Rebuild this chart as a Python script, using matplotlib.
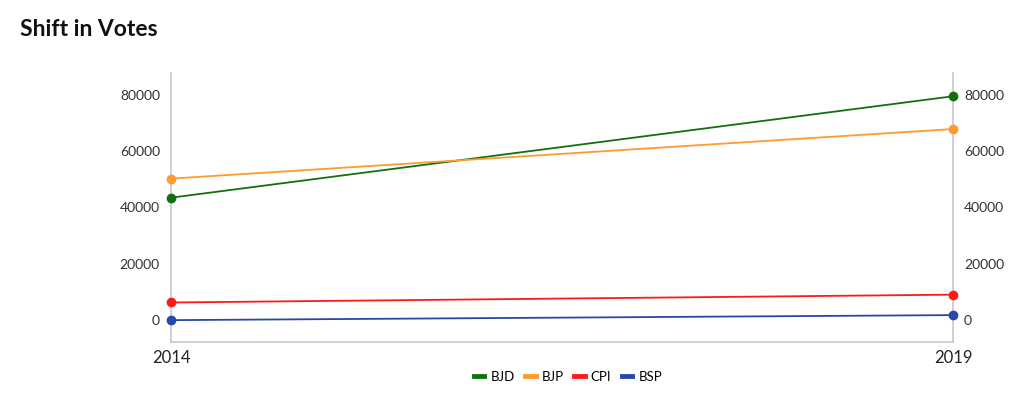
import matplotlib
matplotlib.use("Agg")
import matplotlib.pyplot as plt
from matplotlib.lines import Line2D

years = ["2014", "2019"]
series_names = ["BJD", "BJP", "CPI", "BSP"]
bjd = [43500, 79700]
bjp = [50300, 68000]
cpi = [6100, 8900]
bsp = [-200, 1600]
colors = ["#107010", "#ff9a30", "#ff1a1a", "#2848a8"]
y_ticks = [0, 20000, 40000, 60000, 80000]

plt.rcParams['font.family'] = ['Lato', 'DejaVu Sans']

fig = plt.figure(figsize=(10.24, 4.12), dpi=100)
ax = fig.add_axes([171/1024, 70/412, (953-171)/1024, (342-73)/412])

x = list(range(len(years)))
for name, vals, c in zip(series_names, [bjd, bjp, cpi, bsp], colors):
    ax.plot(x, vals, color=c, lw=1.3, marker='o', markersize=6, label=name,
            clip_on=False, zorder=3)

ax.set_xlim(0, len(years) - 1)
ax.set_ylim(-8000, 88000)
ax.set_xticks(x)
ax.set_xticklabels(years, fontsize=12, color="#222222")
ax.set_yticks(y_ticks)
ax.set_yticklabels([str(v) for v in y_ticks], fontsize=10, color="#333333")
ax.tick_params(axis='y', length=0, pad=8, labelright=True, right=False)
ax.tick_params(axis='x', length=0, pad=6)
for s in ['left', 'right', 'bottom']:
    ax.spines[s].set_color("#c8c8c8")
    ax.spines[s].set_linewidth(1.2)
ax.spines['top'].set_visible(False)

handles = [Line2D([0], [0], color=c, lw=3.5) for c in colors]
fig.legend(handles, series_names, loc='center', bbox_to_anchor=(568/1024, 1 - 377/412),
           ncol=4, frameon=False, fontsize=9.5, handlelength=0.8, handletextpad=0.45,
           columnspacing=0.8)

fig.text(20/1024, 1 - 30/412, "Shift in Votes", fontsize=16.5, fontweight='bold',
         va='center', ha='left', color="#111111")

fig.savefig("out.png", dpi=100)
